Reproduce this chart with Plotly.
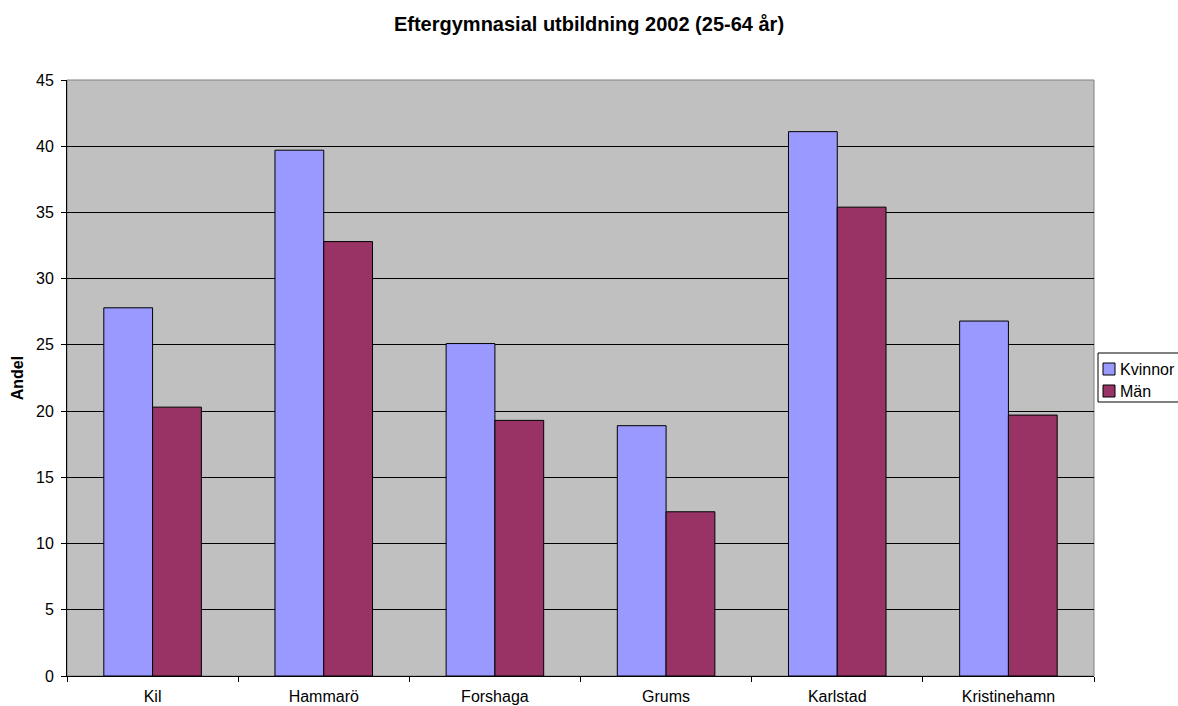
import plotly.graph_objects as go

categories = ["Kil", "Hammarö", "Forshaga", "Grums", "Karlstad", "Kristinehamn"]
series_names = ["Kvinnor", "Män"]
kvinnor = [27.8, 39.7, 25.1, 18.9, 41.1, 26.8]
man = [20.3, 32.8, 19.3, 12.4, 35.4, 19.7]
y_ticks = [0, 5, 10, 15, 20, 25, 30, 35, 40, 45]
colors = ["#9999FF", "#993366"]

W, H = 1178, 706
ML, MR, MT, MB = 67, 84, 80, 30
PW, PH = W - ML - MR, H - MT - MB


def px_x(px):
    return (px - ML) / PW


def px_y(py):
    return (H - MB - py) / PH


fig = go.Figure()
for name, vals, col in zip(series_names, [kvinnor, man], colors):
    fig.add_trace(go.Bar(name=name, x=categories, y=vals,
                         marker=dict(color=col, line=dict(color="black", width=1))))

fig.update_layout(
    width=W, height=H,
    margin=dict(l=ML, r=MR, t=MT, b=MB, autoexpand=False),
    paper_bgcolor="white",
    plot_bgcolor="#C0C0C0",
    font=dict(family="Liberation Sans, Arial, sans-serif", size=16, color="black"),
    title=dict(text="<b>Eftergymnasial utbildning 2002 (25-64 år)</b>",
               x=0.5, xanchor="center", y=1 - 24 / H, yanchor="middle",
               font=dict(size=20)),
    barmode="group",
    bargap=0.43,
    bargroupgap=0,
    showlegend=False,
)
fig.update_xaxes(showline=True, linecolor="black", linewidth=1,
                 ticks="outside", tickson="boundaries", ticklen=5, tickcolor="black",
                 ticklabelstandoff=6,
                 showgrid=False)
fig.update_yaxes(range=[0, 45], tickvals=y_ticks, showline=True, linecolor="black",
                 linewidth=1, ticks="outside", ticklen=5, tickcolor="black",
                 ticklabelstandoff=4,
                 showgrid=True, gridcolor="black", gridwidth=1,
                 zeroline=False,
                 title=dict(text="<b>Andel</b>", standoff=8, font=dict(size=16)))
fig.add_shape(type="rect", xref="paper", yref="paper", x0=0, y0=0, x1=1, y1=1,
              line=dict(color="#808080", width=1), layer="below")

# legend box (custom, Excel style)
fig.add_shape(type="rect", xref="paper", yref="paper",
              x0=px_x(1098), x1=px_x(1185), y0=px_y(402), y1=px_y(353),
              line=dict(color="black", width=1), fillcolor="white")
entry_y = [369, 391]
for name, col, cy in zip(series_names, colors, entry_y):
    fig.add_shape(type="rect", xref="paper", yref="paper",
                  x0=px_x(1103), x1=px_x(1115), y0=px_y(cy + 6), y1=px_y(cy - 6),
                  line=dict(color="black", width=1), fillcolor=col)
    fig.add_annotation(xref="paper", yref="paper", x=px_x(1118), y=px_y(cy),
                       text=name, showarrow=False, xanchor="left", yanchor="middle",
                       font=dict(size=16))
fig.write_html("out.html",
               config={"displayModeBar": False},
               post_script="document.body.style.margin='0px';"
                           "document.body.style.overflow='hidden';")
